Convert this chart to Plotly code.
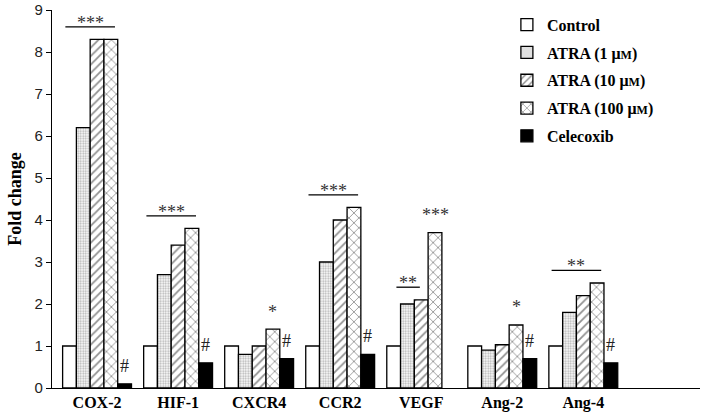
import plotly.graph_objects as go

# ---------------- data ----------------
categories = ["COX-2", "HIF-1", "CXCR4", "CCR2", "VEGF", "Ang-2", "Ang-4"]
control = [1.0, 1.0, 1.0, 1.0, 1.0, 1.0, 1.0]
atra_1 = [6.2, 2.7, 0.8, 3.0, 2.0, 0.9, 1.8]
atra_10 = [8.3, 3.4, 1.0, 4.0, 2.1, 1.03, 2.2]
atra_100 = [8.3, 3.8, 1.4, 4.3, 3.7, 1.5, 2.5]
celecoxib = [0.1, 0.6, 0.7, 0.8, None, 0.7, 0.6]

group_sig = ["***", "***", "", "***", "**", "", "**"]        # bracket over ATRA groups
atra100_sig = ["", "", "*", "", "***", "*", ""]              # over ATRA 100 bar
celecoxib_sig = ["#", "#", "#", "#", "", "#", "#"]           # over celecoxib bar

series_names = ["Control", "ATRA (1 μ<span style='font-size:12px'>M</span>)",
                "ATRA (10 μ<span style='font-size:12px'>M</span>)",
                "ATRA (100 μ<span style='font-size:12px'>M</span>)", "Celecoxib"]
y_ticks = [0, 1, 2, 3, 4, 5, 6, 7, 8, 9]

# ---------------- styles ----------------
SERIF = "Liberation Serif"
patterns = [
    dict(shape=""),
    dict(shape=".", fgcolor="#666", bgcolor="white", size=2.5, solidity=0.45),
    dict(shape="/", fgcolor="#222", bgcolor="white", size=6, solidity=0.3),
    dict(shape="x", fgcolor="#333", bgcolor="white", size=7, solidity=0.25),
    dict(shape=""),
]
fills = ["white", "white", "white", "white", "black"]

series = [control, atra_1, atra_10, atra_100, celecoxib]
x = list(range(len(categories)))
bargap = 0.15
n = len(series)
bw = (1 - bargap) / n

fig = go.Figure()
for i, (name, vals) in enumerate(zip(series_names, series)):
    fig.add_trace(go.Bar(
        x=x, y=vals, name=name, legendgroup=f"g{i}",
        marker=dict(color=fills[i], pattern=patterns[i],
                    line=dict(color="black", width=1.3)),
    ))

def bar_x(g, i):
    return g + (i - (n - 1) / 2) * bw

annotations = []
shapes = []
star_font = dict(family=SERIF, size=18, color="#333")
hash_font = dict(family=SERIF, size=18, color="#222")

for g in x:
    s = group_sig[g]
    if s:
        if s == "**" and categories[g] == "VEGF":
            a, b = 0.2, 1.9
            top = max(atra_1[g], atra_10[g])
        else:
            a, b = -0.3, 3.3
            top = max(control[g], atra_1[g], atra_10[g], atra_100[g])
        x0 = bar_x(g, a)
        x1 = bar_x(g, b)
        ly = top + 0.3
        shapes.append(dict(type="line", x0=x0, x1=x1, y0=ly, y1=ly,
                           xref="x", yref="y", line=dict(color="black", width=1.3)))
        annotations.append(dict(x=(x0 + x1) / 2, y=ly + 0.1, text=s, showarrow=False,
                                xref="x", yref="y", yanchor="middle", font=star_font))
    s = atra100_sig[g]
    if s:
        annotations.append(dict(x=bar_x(g, 3), y=atra_100[g] + 0.42, text=s, showarrow=False,
                                xref="x", yref="y", yanchor="middle", font=star_font))
    s = celecoxib_sig[g]
    if s and celecoxib[g] is not None:
        annotations.append(dict(x=bar_x(g, 4), y=celecoxib[g] + 0.43, text=s, showarrow=False,
                                xref="x", yref="y", yanchor="middle", font=hash_font))

fig.update_layout(
    width=709, height=412,
    margin=dict(l=52, r=9, t=10, b=24, autoexpand=False),
    paper_bgcolor="white", plot_bgcolor="white",
    barmode="group", bargap=bargap, bargroupgap=0,
    showlegend=True,
    legend=dict(x=0.702, y=1.006, xanchor="left", yanchor="top",
                font=dict(family=SERIF, size=16, color="black", weight="bold"),
                tracegroupgap=4, bgcolor="rgba(0,0,0,0)"),
    shapes=shapes, annotations=annotations,
    xaxis=dict(range=[-0.556, 7.44], tickvals=x, ticktext=categories, automargin=False,
               showline=True, linecolor="black", linewidth=1.3, ticks="",
               showgrid=False, zeroline=False,
               tickfont=dict(family=SERIF, size=16, color="black", weight="bold")),
    yaxis=dict(range=[0, 9], tickvals=y_ticks, showline=True, linecolor="black", automargin=False,
               linewidth=1.3, ticks="outside", ticklen=5, tickwidth=1.2, tickcolor="black",
               showgrid=False, zeroline=False,
               tickfont=dict(family="Liberation Sans", size=15, color="#222"),
               title=dict(text="Fold change", standoff=8,
                          font=dict(family=SERIF, size=18, color="black", weight="bold"))),
)

fig.write_html("out.html", config={"displayModeBar": False},
               post_script="document.body.style.margin='0';document.body.style.overflow='hidden';")
